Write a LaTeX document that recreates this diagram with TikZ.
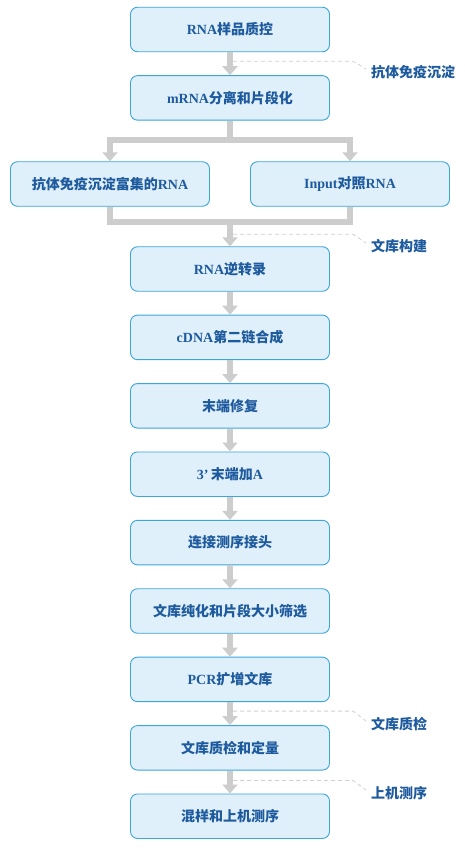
\documentclass[tikz,border=0pt]{standalone}
\usepackage{fontspec}
\setmainfont{Liberation Serif}
\newfontfamily\cjk{Noto Sans CJK SC}
\newcommand\zh[1]{{\cjk #1}}
\usetikzlibrary{arrows.meta,positioning}
\definecolor{ink}{HTML}{1E5A9E}
\definecolor{rim}{HTML}{3AA6DA}
\definecolor{panel}{HTML}{E0F0FA}
\definecolor{flowgray}{HTML}{CDCDCD}
\definecolor{dashgray}{HTML}{D0D0D0}

\begin{document}
\begin{tikzpicture}[
  x=1pt, y=1pt,
  text=ink,
  stepbox/.style={draw=rim, line width=.9pt, rounded corners=7pt,
    fill=panel, minimum width=199pt, minimum height=44.5pt,
    align=center, inner sep=4pt, font=\fontsize{14}{16}\selectfont\bfseries},
  flowline/.style={draw=flowgray, line width=6pt},
  flow/.style={flowline, -{Triangle[width=15pt,length=9pt]}},
  dashline/.style={draw=dashgray, line width=.8pt, dash pattern=on 4pt off 3pt},
  sidenote/.style={anchor=west, inner sep=0pt, font=\fontsize{14}{16}\selectfont\bfseries},
  node distance=23pt
]
  \useasboundingbox (0,0) rectangle (464,-848);
  \node[stepbox] (qc) at (230,-29.5) {RNA\zh{样品质控}};
  \node[stepbox, below=of qc] (mrna) {mRNA\zh{分离和片段化}};
  \node[stepbox] (ip) at (110,-184) {\zh{抗体免疫沉淀富集的}RNA};
  \node[stepbox] (input) at (350,-184) {Input\zh{对照}RNA};
  \node[stepbox] (rev) at (230,-269) {RNA\zh{逆转录}};
  \node[stepbox, below=of rev] (cdna) {cDNA\zh{第二链合成}};
  \node[stepbox, below=of cdna] (endrep) {\zh{末端修复}};
  \node[stepbox, below=of endrep] (atail) {3’\,\zh{末端加}A};
  \node[stepbox, below=of atail] (adapt) {\zh{连接测序接头}};
  \node[stepbox, below=of adapt] (purify) {\zh{文库纯化和片段大小筛选}};
  \node[stepbox, below=of purify] (pcr) {PCR\zh{扩增文库}};
  \node[stepbox, below=of pcr] (libqc) {\zh{文库质检和定量}};
  \node[stepbox, below=of libqc] (seq) {\zh{混样和上机测序}};

  % stage labels on the right
  \node[sidenote] (ipnote) at (371,-72) {\zh{抗体免疫沉淀}};
  \node[sidenote] (libnote) at (371,-246) {\zh{文库构建}};
  \node[sidenote] (qcnote) at (371,-724) {\zh{文库质检}};
  \node[sidenote] (seqnote) at (371,-793) {\zh{上机测序}};

  % split and merge
  \coordinate (split) at ([yshift=-19pt]mrna.south);
  \coordinate (merge) at ([yshift=-15pt]ip.south -| mrna.south);
  \draw[flow] (qc) -- (mrna);
  \draw[flowline] (mrna.south) -- (split);
  \draw[flow] (split) -| (ip);
  \draw[flow] (split) -| (input);
  \draw[flowline] (ip.south) |- (merge);
  \draw[flowline] (input.south) |- (merge);
  \draw[flow] (merge) -- (rev);
  \foreach \a/\b in {rev/cdna, cdna/endrep, endrep/atail, atail/adapt,
      adapt/purify, purify/pcr, pcr/libqc, libqc/seq}
    \draw[flow] (\a) -- (\b);

  \draw[dashline] ([xshift=3pt,yshift=-9pt]qc.south) -- ++(120,0)
    -- ([xshift=-5pt,yshift=3pt]ipnote.west);
  \draw[dashline] ([xshift=3pt,yshift=12pt]rev.north) -- ++(120,0)
    -- ([xshift=-5pt,yshift=3pt]libnote.west);
  \draw[dashline] ([xshift=3pt,yshift=-9pt]pcr.south) -- ++(120,0)
    -- ([xshift=-5pt,yshift=3pt]qcnote.west);
  \draw[dashline] ([xshift=3pt,yshift=-10pt]libqc.south) -- ++(120,0)
    -- ([xshift=-5pt,yshift=3pt]seqnote.west);
\end{tikzpicture}
\end{document}
